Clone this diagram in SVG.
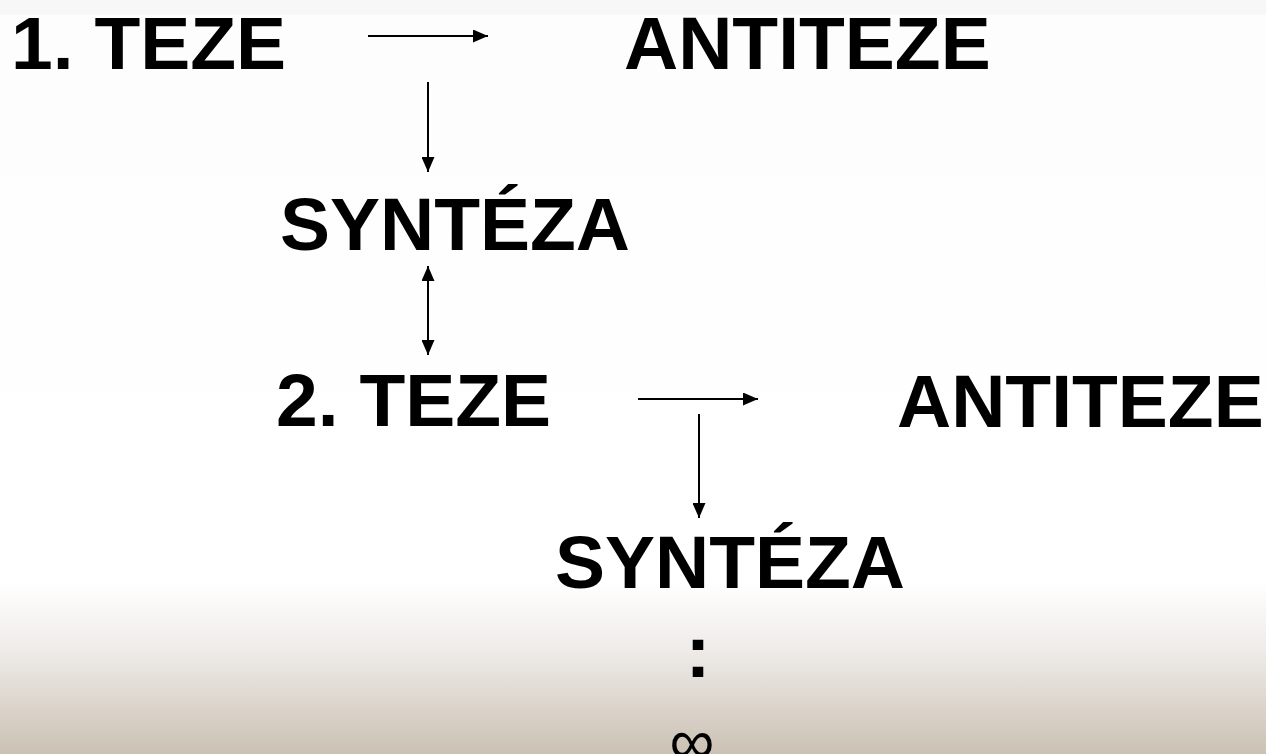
<svg xmlns="http://www.w3.org/2000/svg" width="1266" height="754" viewBox="0 0 1266 754">
<defs>
<linearGradient id="bg" x1="0" y1="0" x2="0" y2="754" gradientUnits="userSpaceOnUse">
<stop offset="0" stop-color="#F7F7F7"/>
<stop offset="0.019" stop-color="#F7F7F7"/>
<stop offset="0.02" stop-color="#FEFDFD"/>
<stop offset="0.77" stop-color="#FFFFFF"/>
<stop offset="0.86" stop-color="#EFECE9"/>
<stop offset="1" stop-color="#CBC1B4"/>
</linearGradient>
<marker id="ah" viewBox="0 0 15 13" refX="15" refY="6.5" markerWidth="15" markerHeight="13" markerUnits="userSpaceOnUse" orient="auto-start-reverse">
<path d="M0,0 L15,6.5 L0,13 Z" fill="#000"/>
</marker>
<style>
.t{font-family:"Liberation Sans",Arial,sans-serif;font-weight:bold;font-size:75px;fill:#000}
.c{stroke:#000;stroke-width:2;fill:none}
</style>
</defs>
<rect width="1266" height="754" fill="url(#bg)"/>
<g id="teze1"><text class="t" x="11" y="69">1. TEZE</text></g>
<g id="antiteze1"><text class="t" x="624" y="69">ANTITEZE</text></g>
<g id="synteza1"><text class="t" x="280" y="250">SYNTÉZA</text></g>
<g id="teze2"><text class="t" x="276" y="426">2. TEZE</text></g>
<g id="antiteze2"><text class="t" x="897" y="427">ANTITEZE</text></g>
<g id="synteza2"><text class="t" x="555" y="588">SYNTÉZA</text></g>
<g id="dots"><text class="t" x="698" y="677" text-anchor="middle">:</text></g>
<g id="infinity"><text x="692" y="763" text-anchor="middle" style="font-family:'Liberation Sans',Arial,sans-serif;font-size:63px;fill:#000">∞</text></g>
<g id="connectors">
<line class="c" x1="368" y1="36" x2="488" y2="36" marker-end="url(#ah)"/>
<line class="c" x1="428" y1="82" x2="428" y2="172" marker-end="url(#ah)"/>
<line class="c" x1="428" y1="266" x2="428" y2="355" marker-start="url(#ah)" marker-end="url(#ah)"/>
<line class="c" x1="638" y1="399" x2="758" y2="399" marker-end="url(#ah)"/>
<line class="c" x1="699" y1="414" x2="699" y2="518" marker-end="url(#ah)"/>
</g>
</svg>
